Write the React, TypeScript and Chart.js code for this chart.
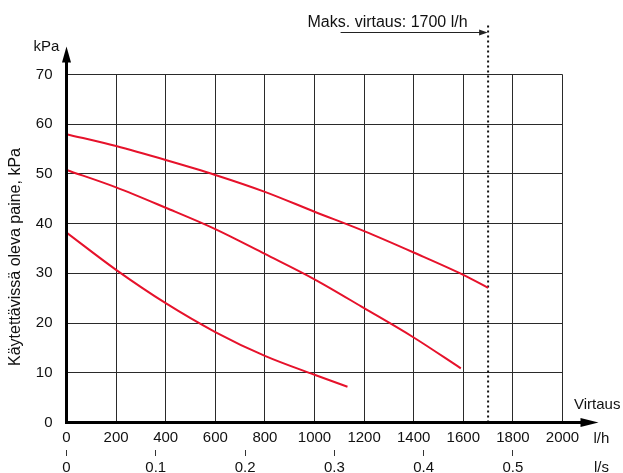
import React, { useEffect, useRef } from 'react';
import { Chart, registerables } from 'chart.js';

Chart.register(...registerables);

// ---- data ----
const flowTicksLh = [0, 200, 400, 600, 800, 1000, 1200, 1400, 1600, 1800, 2000];
const flowTicksLs = [0, 0.1, 0.2, 0.3, 0.4, 0.5];
const pressureTicks = [0, 10, 20, 30, 40, 50, 60, 70];

const flowCurve1 = [0, 200, 400, 600, 800, 1000, 1200, 1400, 1600, 1700];
const pressureCurve1 = [58, 55.6, 52.8, 49.8, 46.4, 42.4, 38.5, 34.2, 29.7, 27.1];

const flowCurve2 = [0, 200, 400, 600, 800, 1000, 1200, 1400, 1590];
const pressureCurve2 = [50.8, 47.3, 43.2, 38.9, 33.9, 28.8, 23.0, 17.1, 10.9];

const flowCurve3 = [0, 200, 400, 600, 800, 1000, 1133];
const pressureCurve3 = [38.2, 30.7, 24.0, 18.2, 13.4, 9.6, 7.2];

const maxFlowLh = 1700;
const maxFlowLine = [0, 80]; // pressure range spanned by the dotted marker
const annotationText = 'Maks. virtaus: 1700 l/h';
const yTitle = 'Käytettävissä oleva paine, kPa';

const X_MAX = 2000;
const Y_MAX = 70;
const LS_MAX = X_MAX / 3600;

const FONT = "'Liberation Sans', Arial, Helvetica, sans-serif";
const RED = '#e6122b';

const toPoints = (xs: number[], ys: number[]) => xs.map((x, i) => ({ x, y: ys[i] }));

const decorPlugin = {
  id: 'decor',
  afterDraw(chart: any) {
    const { ctx } = chart;
    const xs = chart.scales.x;
    const ys = chart.scales.y;
    const x0 = xs.getPixelForValue(0);
    const y0 = ys.getPixelForValue(0);
    const xEnd = xs.getPixelForValue(X_MAX);
    const yTop = ys.getPixelForValue(Y_MAX);
    ctx.save();
    ctx.fillStyle = '#000';
    ctx.strokeStyle = '#000';
    ctx.lineWidth = 3;
    ctx.lineCap = 'butt';
    // y axis with arrow
    const yTip = yTop - 28;
    ctx.beginPath();
    ctx.moveTo(x0, y0 + 1.5);
    ctx.lineTo(x0, yTip + 12);
    ctx.stroke();
    ctx.beginPath();
    ctx.moveTo(x0, yTip);
    ctx.lineTo(x0 + 4.5, yTip + 16);
    ctx.lineTo(x0 - 4.5, yTip + 16);
    ctx.closePath();
    ctx.fill();
    // x axis with arrow
    const xTip = xEnd + 36;
    ctx.beginPath();
    ctx.moveTo(x0 - 1.5, y0);
    ctx.lineTo(xTip - 14, y0);
    ctx.stroke();
    ctx.beginPath();
    ctx.moveTo(xTip, y0);
    ctx.lineTo(xTip - 18, y0 - 4.5);
    ctx.lineTo(xTip - 18, y0 + 4.5);
    ctx.closePath();
    ctx.fill();

    // texts
    ctx.fillStyle = '#111';
    ctx.font = `15px ${FONT}`;
    ctx.textBaseline = 'middle';
    ctx.textAlign = 'center';
    ctx.fillText('kPa', x0 - 20, yTip);
    ctx.textAlign = 'left';
    ctx.fillText('Virtaus', xEnd + 11.5, y0 - 17.5);
    ctx.fillText('l/h', xEnd + 31, y0 + 16.5);
    ctx.fillText('l/s', xEnd + 31.5, y0 + 45);

    // y title
    ctx.save();
    ctx.font = `16px ${FONT}`;
    ctx.translate(16, (yTop + y0) / 2 + 8.5);
    ctx.rotate(-Math.PI / 2);
    ctx.textAlign = 'center';
    ctx.textBaseline = 'middle';
    ctx.fillText(yTitle, 0, 0);
    ctx.restore();

    // annotation
    const xMax = xs.getPixelForValue(maxFlowLh);
    ctx.font = `16px ${FONT}`;
    ctx.textAlign = 'right';
    ctx.textBaseline = 'alphabetic';
    ctx.fillText(annotationText, xMax - 20.5, 26.7);
    ctx.strokeStyle = '#222';
    ctx.lineWidth = 1;
    ctx.beginPath();
    ctx.moveTo(xMax - 147.5, 32.5);
    ctx.lineTo(xMax - 6, 32.5);
    ctx.stroke();
    ctx.fillStyle = '#222';
    ctx.beginPath();
    ctx.moveTo(xMax - 0.5, 32.5);
    ctx.lineTo(xMax - 9, 29.5);
    ctx.lineTo(xMax - 9, 35.5);
    ctx.closePath();
    ctx.fill();
    ctx.restore();
  },
};

export default function App() {
  const ref = useRef<HTMLCanvasElement | null>(null);

  useEffect(() => {
    if (!ref.current) return;
    const curveStyle = {
      borderColor: RED,
      borderWidth: 2,
      pointRadius: 0,
      fill: false,
      cubicInterpolationMode: 'monotone' as const,
    };
    const chart = new Chart(ref.current, {
      type: 'line',
      data: {
        datasets: [
          { ...curveStyle, data: toPoints(flowCurve1, pressureCurve1) },
          { ...curveStyle, data: toPoints(flowCurve2, pressureCurve2) },
          { ...curveStyle, data: toPoints(flowCurve3, pressureCurve3) },
          {
            data: maxFlowLine.map((p) => ({ x: maxFlowLh, y: p })),
            borderColor: '#111',
            borderWidth: 2,
            borderDash: [2, 3],
            pointRadius: 0,
            clip: false as any,
          },
        ],
      },
      plugins: [decorPlugin],
      options: {
        animation: false,
        responsive: false,
        events: [],
        layout: { padding: { left: 0, top: 74.5, right: 60.5, bottom: 0 } },
        plugins: { legend: { display: false }, tooltip: { enabled: false } },
        font: { family: FONT },
        scales: {
          x: {
            type: 'linear',
            position: 'bottom',
            min: 0,
            max: X_MAX,
            weight: 0,
            afterBuildTicks: (s: any) => {
              s.ticks = flowTicksLh.map((v) => ({ value: v }));
            },
            afterFit: (s: any) => {
              s.height = 27.5;
            },
            grid: { color: '#2a2a2a', lineWidth: 1, drawTicks: false },
            border: { display: false },
            ticks: {
              autoSkip: false,
              maxRotation: 0,
              padding: 6.8,
              color: '#111',
              font: { family: FONT, size: 15 },
              callback: (v: any) => String(v),
            },
          },
          x2: {
            type: 'linear',
            position: 'bottom',
            min: 0,
            max: LS_MAX,
            weight: 1,
            afterBuildTicks: (s: any) => {
              s.ticks = flowTicksLs.map((v) => ({ value: v }));
            },
            afterFit: (s: any) => {
              s.height = 23;
            },
            grid: { drawOnChartArea: false, drawTicks: true, tickLength: 6, color: '#333', lineWidth: 1 },
            border: { display: false },
            ticks: {
              autoSkip: false,
              maxRotation: 0,
              padding: 2.7,
              color: '#111',
              font: { family: FONT, size: 15 },
              callback: (v: any) => String(Math.round(Number(v) * 10) / 10),
            },
          },
          y: {
            type: 'linear',
            position: 'left',
            min: 0,
            max: Y_MAX,
            afterBuildTicks: (s: any) => {
              s.ticks = pressureTicks.map((v) => ({ value: v }));
            },
            afterFit: (s: any) => {
              s.width = 66.5;
            },
            grid: { color: '#2a2a2a', lineWidth: 1, drawTicks: false },
            border: { display: false },
            ticks: {
              padding: 14,
              color: '#111',
              font: { family: FONT, size: 15 },
              callback: (v: any) => String(v),
            },
          },
        },
      },
    });
    return () => chart.destroy();
  }, []);

  return (
    <div style={{ position: 'absolute', left: 0, top: 0, width: 623, height: 473, background: '#fff' }}>
      <canvas ref={ref} width={623} height={473} style={{ display: 'block' }} />
    </div>
  );
}
